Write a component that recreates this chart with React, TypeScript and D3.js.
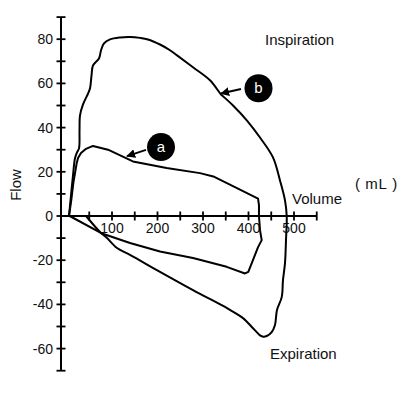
import React from "react";
import * as d3 from "d3";

// Loop b (larger, outer) – [volume mL, flow]
const loopBVolume = [5.5, 9.9, 14.3, 18.7, 23.1, 27.5, 28.6, 29.7, 36.3, 47.3, 51.6, 55, 58.2, 71.4, 75.8, 82.4, 95.6, 117.6, 139.6, 161.5, 179, 205.5, 227.5, 243, 278, 315.4, 339.6, 344, 366, 396.7, 425.3, 453.8, 469.2, 480.2, 484, 482.4, 480.2, 475.8, 473, 462.6, 458.2, 451, 440, 432.5, 425.3, 410.5, 388, 359.3, 352, 278, 205.5, 139.6, 111, 86.8, 75.8, 42.9];
const loopBFlow = [0, 9.4, 18.4, 26.1, 28.8, 30.6, 38.7, 45.5, 50.5, 55.4, 57.7, 63.6, 68.1, 71.3, 74.9, 78.1, 79.9, 80.8, 81, 80.6, 79.9, 77.6, 75, 72.7, 67.3, 61.4, 55, 54.2, 50, 43.2, 35.5, 26.5, 16.1, 7.1, 0, -10.9, -21.3, -29, -36.7, -42.5, -49.3, -52.5, -54.3, -54.6, -54, -50.9, -46.2, -42.5, -41.6, -33.5, -25.3, -17.6, -14.5, -9.5, -7.7, 0];

// Loop a (smaller, tidal)
const loopAVolume = [5.5, 10.5, 15, 22.4, 25.3, 31.9, 42.9, 58.2, 91.2, 146, 220, 293.4, 322.6, 381.3, 421, 423, 423, 425.3, 429, 421, 399.6, 392.3, 352, 278, 205.5, 139.6, 76.5, 7];
const loopAFlow = [0, 7.2, 14.9, 23.9, 26.2, 28.5, 30.4, 31.7, 30, 24.7, 21.7, 19.4, 17.9, 11.9, 7.9, 4.9, 0, -6.4, -10.9, -14.1, -25.3, -26, -23, -19, -16.1, -12.2, -7.8, 0];

const yTickValues = d3.range(-70, 91, 10);
const yLabelValues = [-60, -40, -20, 0, 20, 40, 60, 80];
const xTickValues = d3.range(50, 551, 50);
const xLabelValues = [100, 200, 300, 400, 500];

// annotations: label, circle centre, arrow tail, arrow tip (data coords)
const annLabels = ["a", "b"];
const annCircle = [[207.7, 31.2], [422, 57.8]];
const annTail = [[174.7, 29.9], [383.5, 57.5]];
const annTip = [[133, 27.1], [339.6, 55.4]];

const W = 417;
const H = 398;
const FONT = "'Liberation Sans', Arial, 'Noto Sans CJK SC', sans-serif";

export default function App() {
  const x = d3.scaleLinear().domain([0, 550]).range([66.5, 316.75]);
  const y = d3.scaleLinear().domain([-70, 90]).range([370.7, 17.1]);
  const axisX = 61;
  const y0 = y(0);

  const line = d3
    .line<[number, number]>()
    .x((d) => x(d[0]))
    .y((d) => y(d[1]))
    .curve(d3.curveCatmullRom.alpha(0.5));

  const ptsB = loopBVolume.map((v, i) => [v, loopBFlow[i]] as [number, number]);
  const ptsA = loopAVolume.map((v, i) => [v, loopAFlow[i]] as [number, number]);
  const lineStraight = d3
    .line<[number, number]>()
    .x((d) => x(d[0]))
    .y((d) => y(d[1]));

  return (
    <svg
      width={W}
      height={H}
      style={{ position: "absolute", left: 0, top: 0, background: "#fff" }}
      fontFamily={FONT}
    >
      <defs>
        <marker
          id="arr"
          viewBox="0 0 10 10"
          refX="9"
          refY="5"
          markerWidth="4.5"
          markerHeight="4.5"
          orient="auto"
          markerUnits="strokeWidth"
        >
          <path d="M0,0 L10,5 L0,10 Z" fill="#000" />
        </marker>
      </defs>
      <rect width={W} height={H} fill="#fff" />

      {/* Y axis */}
      <line x1={axisX} x2={axisX} y1={y(90)} y2={y(-70)} stroke="#000" strokeWidth={2} />
      {yTickValues.map((t) => (
        <line key={"yt" + t} x1={axisX - 4.5} x2={axisX + 4.5} y1={y(t)} y2={y(t)} stroke="#000" strokeWidth={1.8} />
      ))}
      {yLabelValues.map((t) => (
        <text key={"yl" + t} x={axisX - 8} y={y(t) + 5} textAnchor="end" fontSize={14} fill="#111">
          {t}
        </text>
      ))}

      {/* X axis */}
      <line x1={axisX} x2={x(550)} y1={y0} y2={y0} stroke="#000" strokeWidth={2} />
      {xTickValues.map((t) => (
        <line key={"xt" + t} x1={x(t)} x2={x(t)} y1={y0 - 4.5} y2={y0 + 4.5} stroke="#000" strokeWidth={1.8} />
      ))}
      {xLabelValues.map((t) => (
        <text key={"xl" + t} x={x(t)} y={y0 + 17} textAnchor="middle" fontSize={14} fill="#111">
          {t}
        </text>
      ))}

      {/* loops */}
      <path d={line(ptsB) || ""} fill="none" stroke="#000" strokeWidth={2} strokeLinejoin="round" />
      <path d={lineStraight(ptsA) || ""} fill="none" stroke="#000" strokeWidth={2} strokeLinejoin="round" />

      {/* annotations */}
      {annLabels.map((lab, i) => (
        <g key={lab}>
          <line
            x1={x(annTail[i][0])}
            y1={y(annTail[i][1])}
            x2={x(annTip[i][0])}
            y2={y(annTip[i][1])}
            stroke="#000"
            strokeWidth={2}
            markerEnd="url(#arr)"
          />
          <circle cx={x(annCircle[i][0])} cy={y(annCircle[i][1])} r={14} fill="#000" />
          <text
            x={x(annCircle[i][0])}
            y={y(annCircle[i][1]) + 5}
            textAnchor="middle"
            fontSize={15}
            fill="#fff"
          >
            {lab}
          </text>
        </g>
      ))}

      {/* labels */}
      <text x={265} y={45} fontSize={15} fill="#111">Inspiration</text>
      <text x={270} y={359} fontSize={15} fill="#111">Expiration</text>
      <text x={292} y={204} fontSize={15} fill="#111">Volume</text>
      <text x={355} y={189} fontSize={15} letterSpacing={0.6} fill="#111">
        {"(\u00a0mL\u00a0)"}
      </text>
      <text transform="translate(20.5,185) rotate(-90)" textAnchor="middle" fontSize={15} fill="#111">
        Flow
      </text>
    </svg>
  );
}
